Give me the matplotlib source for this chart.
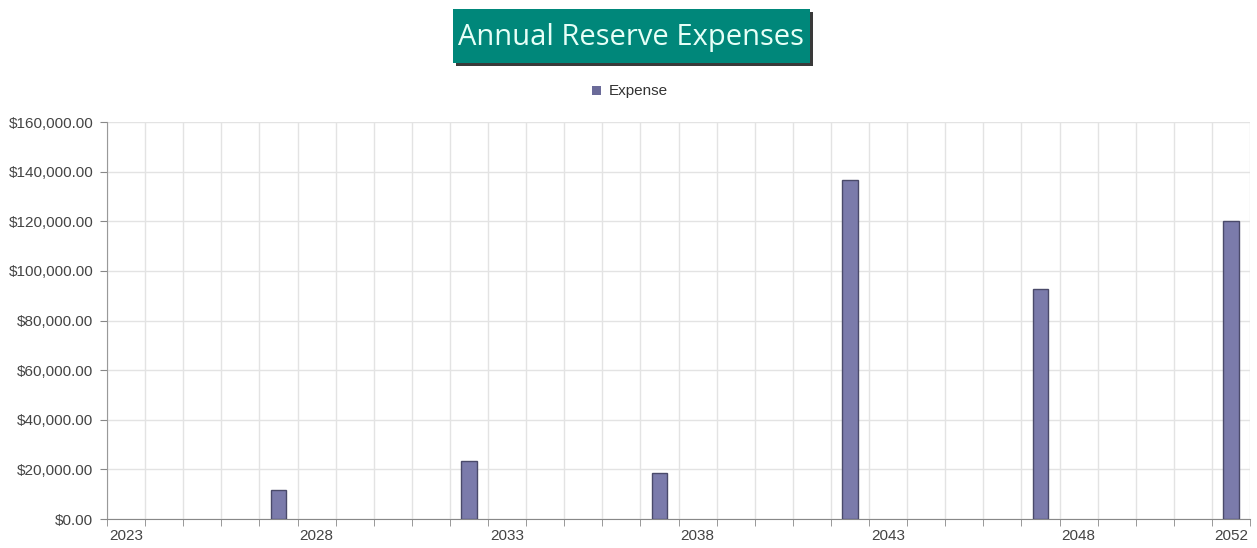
import numpy as np
import matplotlib.pyplot as plt
from matplotlib.patches import Rectangle
from matplotlib.ticker import FuncFormatter, FixedLocator

years = list(range(2023, 2053))
expense = [0, 0, 0, 0, 11700, 0, 0, 0, 0, 23500, 0, 0, 0, 0, 18500,
           0, 0, 0, 0, 136600, 0, 0, 0, 0, 92700, 0, 0, 0, 0, 120200]
label_years = [2023, 2028, 2033, 2038, 2043, 2048, 2052]

W, H = 1257, 548
fig = plt.figure(figsize=(W / 100, H / 100), dpi=100)
ax = fig.add_axes([107 / W, 1 - 519 / H, 1143 / W, 397 / H])

x = np.arange(len(years))
vals = np.array(expense, dtype=float)
nz = vals > 0
ax.bar(x[nz], vals[nz], width=0.4, color='#7b7bab', edgecolor='#4a4a6a', linewidth=1.0, zorder=3)

ax.set_xlim(-0.5, len(years) - 0.5)
ax.set_ylim(0, 160000)
ax.set_yticks(np.arange(0, 160001, 20000))
ax.yaxis.set_major_formatter(FuncFormatter(lambda v, p: '${:,.2f}'.format(v)))

ax.xaxis.set_major_locator(FixedLocator([years.index(y) for y in label_years]))
ax.set_xticklabels([str(y) for y in label_years])
ax.xaxis.set_minor_locator(FixedLocator(np.arange(-0.5, len(years), 1.0)))

ax.tick_params(axis='x', which='major', length=0, pad=7, labelsize=11, labelcolor='#444444')
ax.tick_params(axis='x', which='minor', length=5, color='#888888', direction='out')
ax.tick_params(axis='y', which='major', length=5, color='#888888', labelsize=11,
               labelcolor='#444444', pad=5)
for lab in ax.get_xticklabels() + ax.get_yticklabels():
    lab.set_fontfamily('Liberation Sans')

ax.grid(True, axis='y', which='major', color='#e3e3e3', linewidth=1, zorder=0)
ax.grid(True, axis='x', which='minor', color='#e3e3e3', linewidth=1, zorder=0)
ax.set_axisbelow(True)
for s in ['top', 'right']:
    ax.spines[s].set_visible(False)
ax.spines['left'].set_color('#999999')
ax.spines['bottom'].set_color('#888888')

# title box with shadow
fig.patches.append(Rectangle((456 / W, 1 - 66 / H), 357 / W, 54 / H, transform=fig.transFigure,
                             facecolor='#3a3a3a', edgecolor='none', zorder=1))
fig.patches.append(Rectangle((453 / W, 1 - 63 / H), 357 / W, 54 / H, transform=fig.transFigure,
                             facecolor='#00877a', edgecolor='none', zorder=2))
fig.text(631 / W, 1 - 37 / H, 'Annual Reserve Expenses', ha='center', va='center',
         fontsize=21, color='#e6fff7', fontfamily='Open Sans', zorder=3)

# legend
fig.patches.append(Rectangle((592 / W, 1 - 95 / H), 9 / W, 9 / H, transform=fig.transFigure,
                             facecolor='#6b6b99', edgecolor='none'))
fig.text(609 / W, 1 - 91 / H, 'Expense', ha='left', va='center', fontsize=11,
         color='#333333', fontfamily='Liberation Sans')

fig.savefig('out.png', dpi=100)
